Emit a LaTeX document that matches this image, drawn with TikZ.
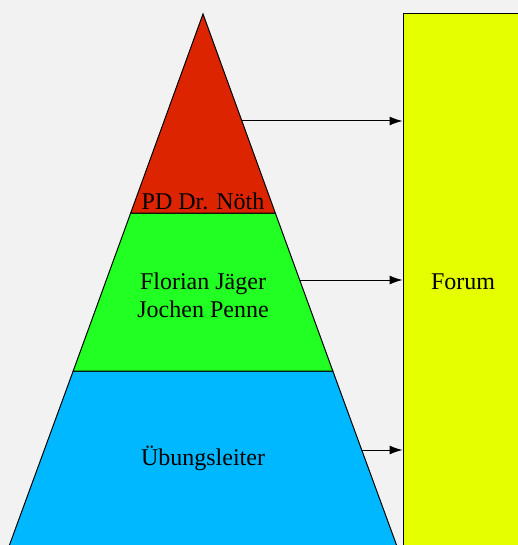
\documentclass[tikz,border=0pt]{standalone}
\usepackage{fontspec}
\setmainfont{Liberation Serif}
\usetikzlibrary{arrows.meta}
\definecolor{bggray}{RGB}{242,242,242}
\definecolor{topred}{RGB}{221,36,0}
\definecolor{midgreen}{RGB}{34,255,34}
\definecolor{lowblue}{RGB}{0,184,255}
\definecolor{forumyellow}{RGB}{229,255,0}
\tikzstyle{layer} = [draw=black, line width=0.5pt]
\tikzstyle{layertext} = [font=\fontsize{12}{14.2}\selectfont, align=center, inner sep=0pt]
\tikzstyle{forumbox} = [rectangle, draw=black, line width=0.5pt, fill=forumyellow, minimum width=60pt, minimum height=268pt, font=\fontsize{12}{14.2}\selectfont]
\tikzstyle{link} = [-{Latex[length=6.5pt,width=4.5pt]}, line width=0.5pt]

\begin{document}
\begin{tikzpicture}[x=0.5pt, y=-0.5pt]
\useasboundingbox (0,0) rectangle (518,545);
\clip (0,0) rectangle (518,545);
\fill[bggray] (0,0) rectangle (518,545);

% pyramid
\path[layer, fill=lowblue] (73.2,371) -- (332.8,371) -- (402,560) -- (4,560) -- cycle;
\path[layer, fill=midgreen] (130.7,213) -- (275.3,213) -- (332.8,371) -- (73.2,371) -- cycle;
\path[layer, fill=topred] (203,14) -- (275.3,213) -- (130.7,213) -- cycle;

\node (n1) [layertext] at (203,201) {PD Dr. Nöth};
\node (n2) [layertext] at (203,295) {Florian Jäger\\Jochen Penne};
\node (n3) [layertext] at (203,458) {Übungsleiter};

\node (fo) [forumbox] at (463,282) {Forum};

\coordinate (a1) at (241.9,121);
\coordinate (a2) at (299.7,280);
\coordinate (a3) at (361.5,450);
\draw[link] (a1) -- (a1 -| fo.west);
\draw[link] (a2) -- (a2 -| fo.west);
\draw[link] (a3) -- (a3 -| fo.west);

\end{tikzpicture}
\end{document}
